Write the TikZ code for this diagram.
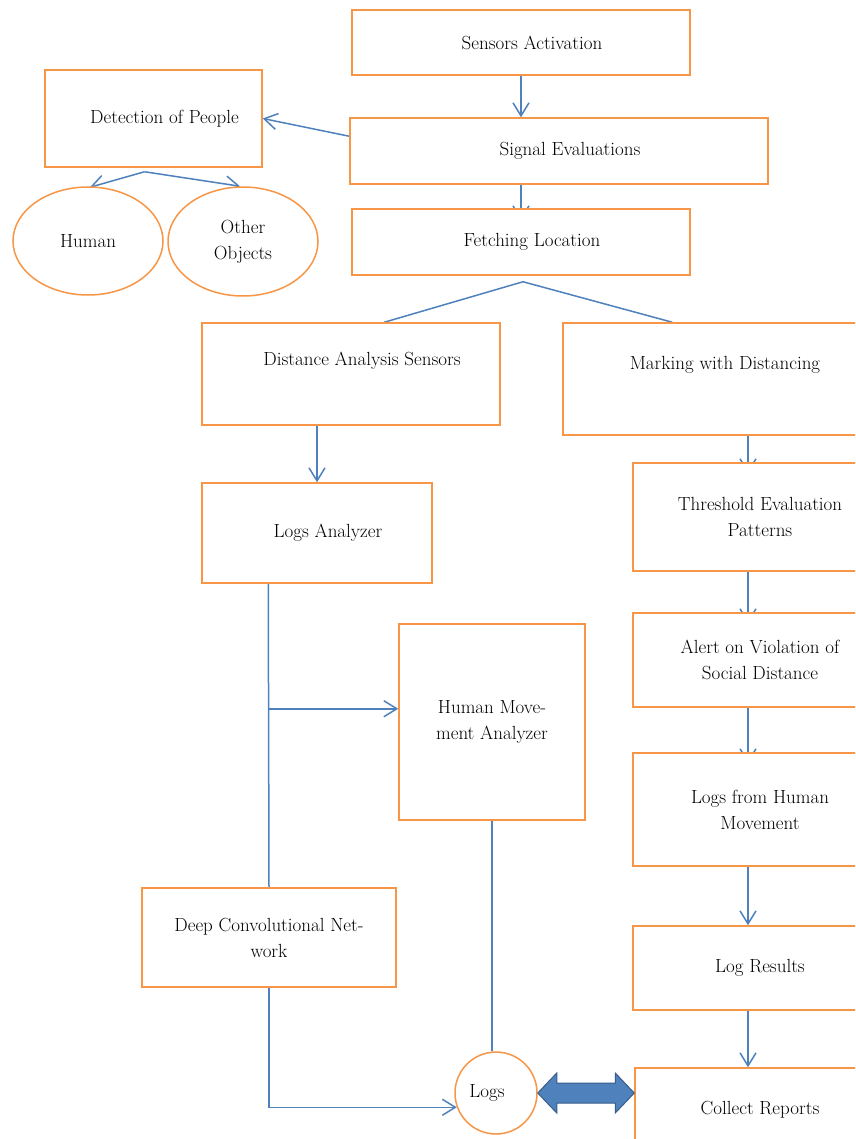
\documentclass[tikz,border=0pt]{standalone}
\usetikzlibrary{arrows.meta,calc,shapes.geometric}
\pgfdeclarelayer{bg}
\pgfsetlayers{bg,main}
\definecolor{boxorange}{RGB}{247,150,70}
\definecolor{lineblue}{RGB}{79,129,189}
\definecolor{darkblue}{RGB}{56,93,138}
\newcommand\indt{\hspace*{22pt}}
\tikzset{
  box/.style={draw=boxorange, line width=1.5pt, fill=white, rectangle, inner sep=0pt,
    align=center, font=\fontsize{19}{26}\selectfont},
  oval/.style={box, ellipse},
  conn/.style={draw=lineblue, line width=1.5pt},
  arr/.style={conn, -{Straight Barb[length=13pt,width=16pt]}},
  bigarrow/.style={fill=lineblue, draw=darkblue, line width=1pt},
}
\begin{document}
\begin{tikzpicture}[x=1pt,y=-1pt]
\useasboundingbox (0,0) rectangle (855,1139);
\clip (0,0) rectangle (855,1139);
\begin{pgfonlayer}{bg}
\fill[white] (0,0) rectangle (855,1139);
\end{pgfonlayer}

% boxes
\node[box, minimum width=338pt, minimum height=65pt] (sens) at (521,42.5) {\indt Sensors Activation};
\node[box, minimum width=418pt, minimum height=66pt] (sig) at (559,151) {\indt Signal Evaluations};
\node[box, minimum width=338pt, minimum height=66pt] (fetch) at (521,242) {\indt Fetching Location};
\node[box, minimum width=217pt, minimum height=97pt] (det) at (153.5,118.5) {\indt Detection of People};
\node[oval, minimum width=150pt, minimum height=108pt] (human) at (88,241) {Human};
\node[oval, minimum width=150pt, minimum height=109pt] (other) at (243,241.5) {Other\\Objects};
\node[box, minimum width=298pt, minimum height=102pt, text depth=30pt] (das) at (351,374) {\indt Distance Analysis Sensors};
\node[box, minimum width=324pt, minimum height=112pt, text depth=32pt] (mark) at (725,379) {Marking with Distancing};
\node[box, minimum width=230pt, minimum height=100pt] (la) at (317,533) {\indt Logs Analyzer};
\node[box, minimum width=254pt, minimum height=108pt] (thr) at (760,517) {Threshold Evaluation\\Patterns};
\node[box, minimum width=254pt, minimum height=94pt] (alert) at (760,660) {Alert on Violation of\\Social Distance};
\node[box, minimum width=254pt, minimum height=113pt] (lhm) at (760,809.5) {Logs from Human\\Movement};
\node[box, minimum width=254pt, minimum height=84pt] (lres) at (760,968) {Log Results};
\node[box, minimum width=250pt, minimum height=84pt] (cr) at (760,1110) {Collect Reports};
\node[box, minimum width=186pt, minimum height=196pt] (hm) at (492,722) {Human Move-\\ment Analyzer};
\node[box, minimum width=254pt, minimum height=99pt] (dcn) at (269,937.5) {Deep Convolutional Net-\\work};
\node[box, circle, minimum size=82pt] (logs) at (496,1093) {Logs\hspace*{18pt}};

% connectors
\begin{pgfonlayer}{bg}
\draw[arr] (sens.south) -- (sens.south |- sig.north);
\draw[arr] (sens.south |- sig.south) -- ($(fetch.north)+(0,12)$);
\draw[arr] ($(sig.north west)+(0,19)$) -- (det.east);
\coordinate (dsplit) at ($(det.south)+(-9,4)$);
\draw[arr] (dsplit) -- ($(human.north)+(2,1)$);
\draw[arr] (dsplit) -- ($(other.north)+(-3,0)$);
\coordinate (fsplit) at ($(fetch.south)+(2,6)$);
\draw[conn] ($(das.north west)+(183,0)$) -- (fsplit) -- ($(mark.north west)+(110,0)$);
\draw[arr] (la.north |- das.south) -- (la.north);
\coordinate (rc) at (748,0);
\draw[arr] (rc |- mark.south) -- ($(rc |- thr.north)+(0,11)$);
\draw[arr] (rc |- thr.south) -- ($(rc |- alert.north)+(0,11)$);
\draw[arr] (rc |- alert.south) -- ($(rc |- lhm.north)+(0,11)$);
\draw[arr] (rc |- lhm.south) -- (rc |- lres.north);
\draw[arr] (rc |- lres.south) -- (rc |- cr.north);
\coordinate (lx) at ($(la.south west)+(67,0)$);
\draw[conn] (lx) -- (dcn.north);
\coordinate (br) at ($(lx)+(0,125)$);
\draw[arr] (br) -- (br -| hm.west);
\draw[arr] (dcn.south) |- (logs.200);
\draw[conn] (hm.south) -- (hm.south |- logs.north);
\end{pgfonlayer}

% double block arrow between Logs and Collect Reports
\coordinate (dl) at (logs.east);
\coordinate (dr) at (logs.east -| cr.west);
\draw[bigarrow] (dl) -- ($(dl)+(19,-20)$) -- ($(dl)+(19,-10)$) -- ($(dr)+(-19,-10)$)
  -- ($(dr)+(-19,-20)$) -- (dr) -- ($(dr)+(-19,20)$) -- ($(dr)+(-19,10)$)
  -- ($(dl)+(19,10)$) -- ($(dl)+(19,20)$) -- cycle;
\end{tikzpicture}
\end{document}
